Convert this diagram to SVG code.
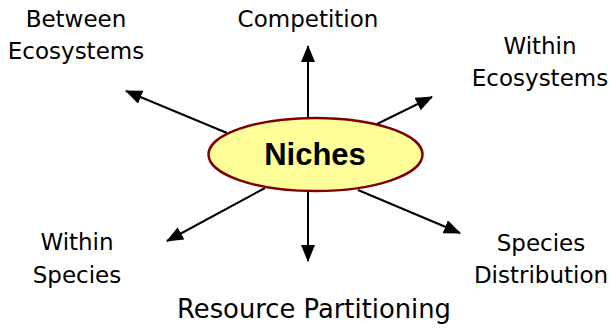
<svg xmlns="http://www.w3.org/2000/svg" width="610" height="329" viewBox="0 0 610 329">
<defs>
<marker id="ah" markerUnits="userSpaceOnUse" markerWidth="17" markerHeight="14" refX="16" refY="7" orient="auto">
<path d="M0,0 L17,7 L0,14 z" fill="#000"/>
</marker>
<style>
.lbl{font-family:"DejaVu Sans",Verdana,sans-serif;font-size:23px;fill:#000;text-anchor:middle}
.big{font-size:25.8px}
.conn line{stroke:#000;stroke-width:2;marker-end:url(#ah)}
</style>
</defs>
<rect width="610" height="329" fill="#fff"/>
<g id="connectors" class="conn">
<line x1="308" y1="118" x2="308" y2="46"/>
<line x1="227" y1="133" x2="126" y2="91"/>
<line x1="377" y1="124" x2="432" y2="97"/>
<line x1="265" y1="188" x2="167" y2="241"/>
<line x1="308" y1="191" x2="308" y2="261"/>
<line x1="358" y1="190" x2="460" y2="233"/>
</g>
<g id="niches">
<ellipse cx="315.5" cy="154.5" rx="107" ry="36.5" fill="#FFFF99" stroke="#800000" stroke-width="2.5"/>
<text x="315" y="165" style="font-family:'Liberation Sans',Arial,sans-serif;font-size:31px;font-weight:bold;text-anchor:middle">Niches</text>
</g>
<g id="competition"><text class="lbl" x="308" y="27">Competition</text></g>
<g id="between-ecosystems"><text class="lbl" x="76" y="27">Between</text><text class="lbl" x="76" y="59">Ecosystems</text></g>
<g id="within-ecosystems"><text class="lbl" x="540" y="54">Within</text><text class="lbl" x="540" y="86">Ecosystems</text></g>
<g id="within-species"><text class="lbl" x="77" y="250">Within</text><text class="lbl" x="77" y="283">Species</text></g>
<g id="species-distribution"><text class="lbl" x="541" y="251">Species</text><text class="lbl" x="541" y="283">Distribution</text></g>
<g id="resource-partitioning"><text class="lbl big" x="314" y="318">Resource Partitioning</text></g>
</svg>
